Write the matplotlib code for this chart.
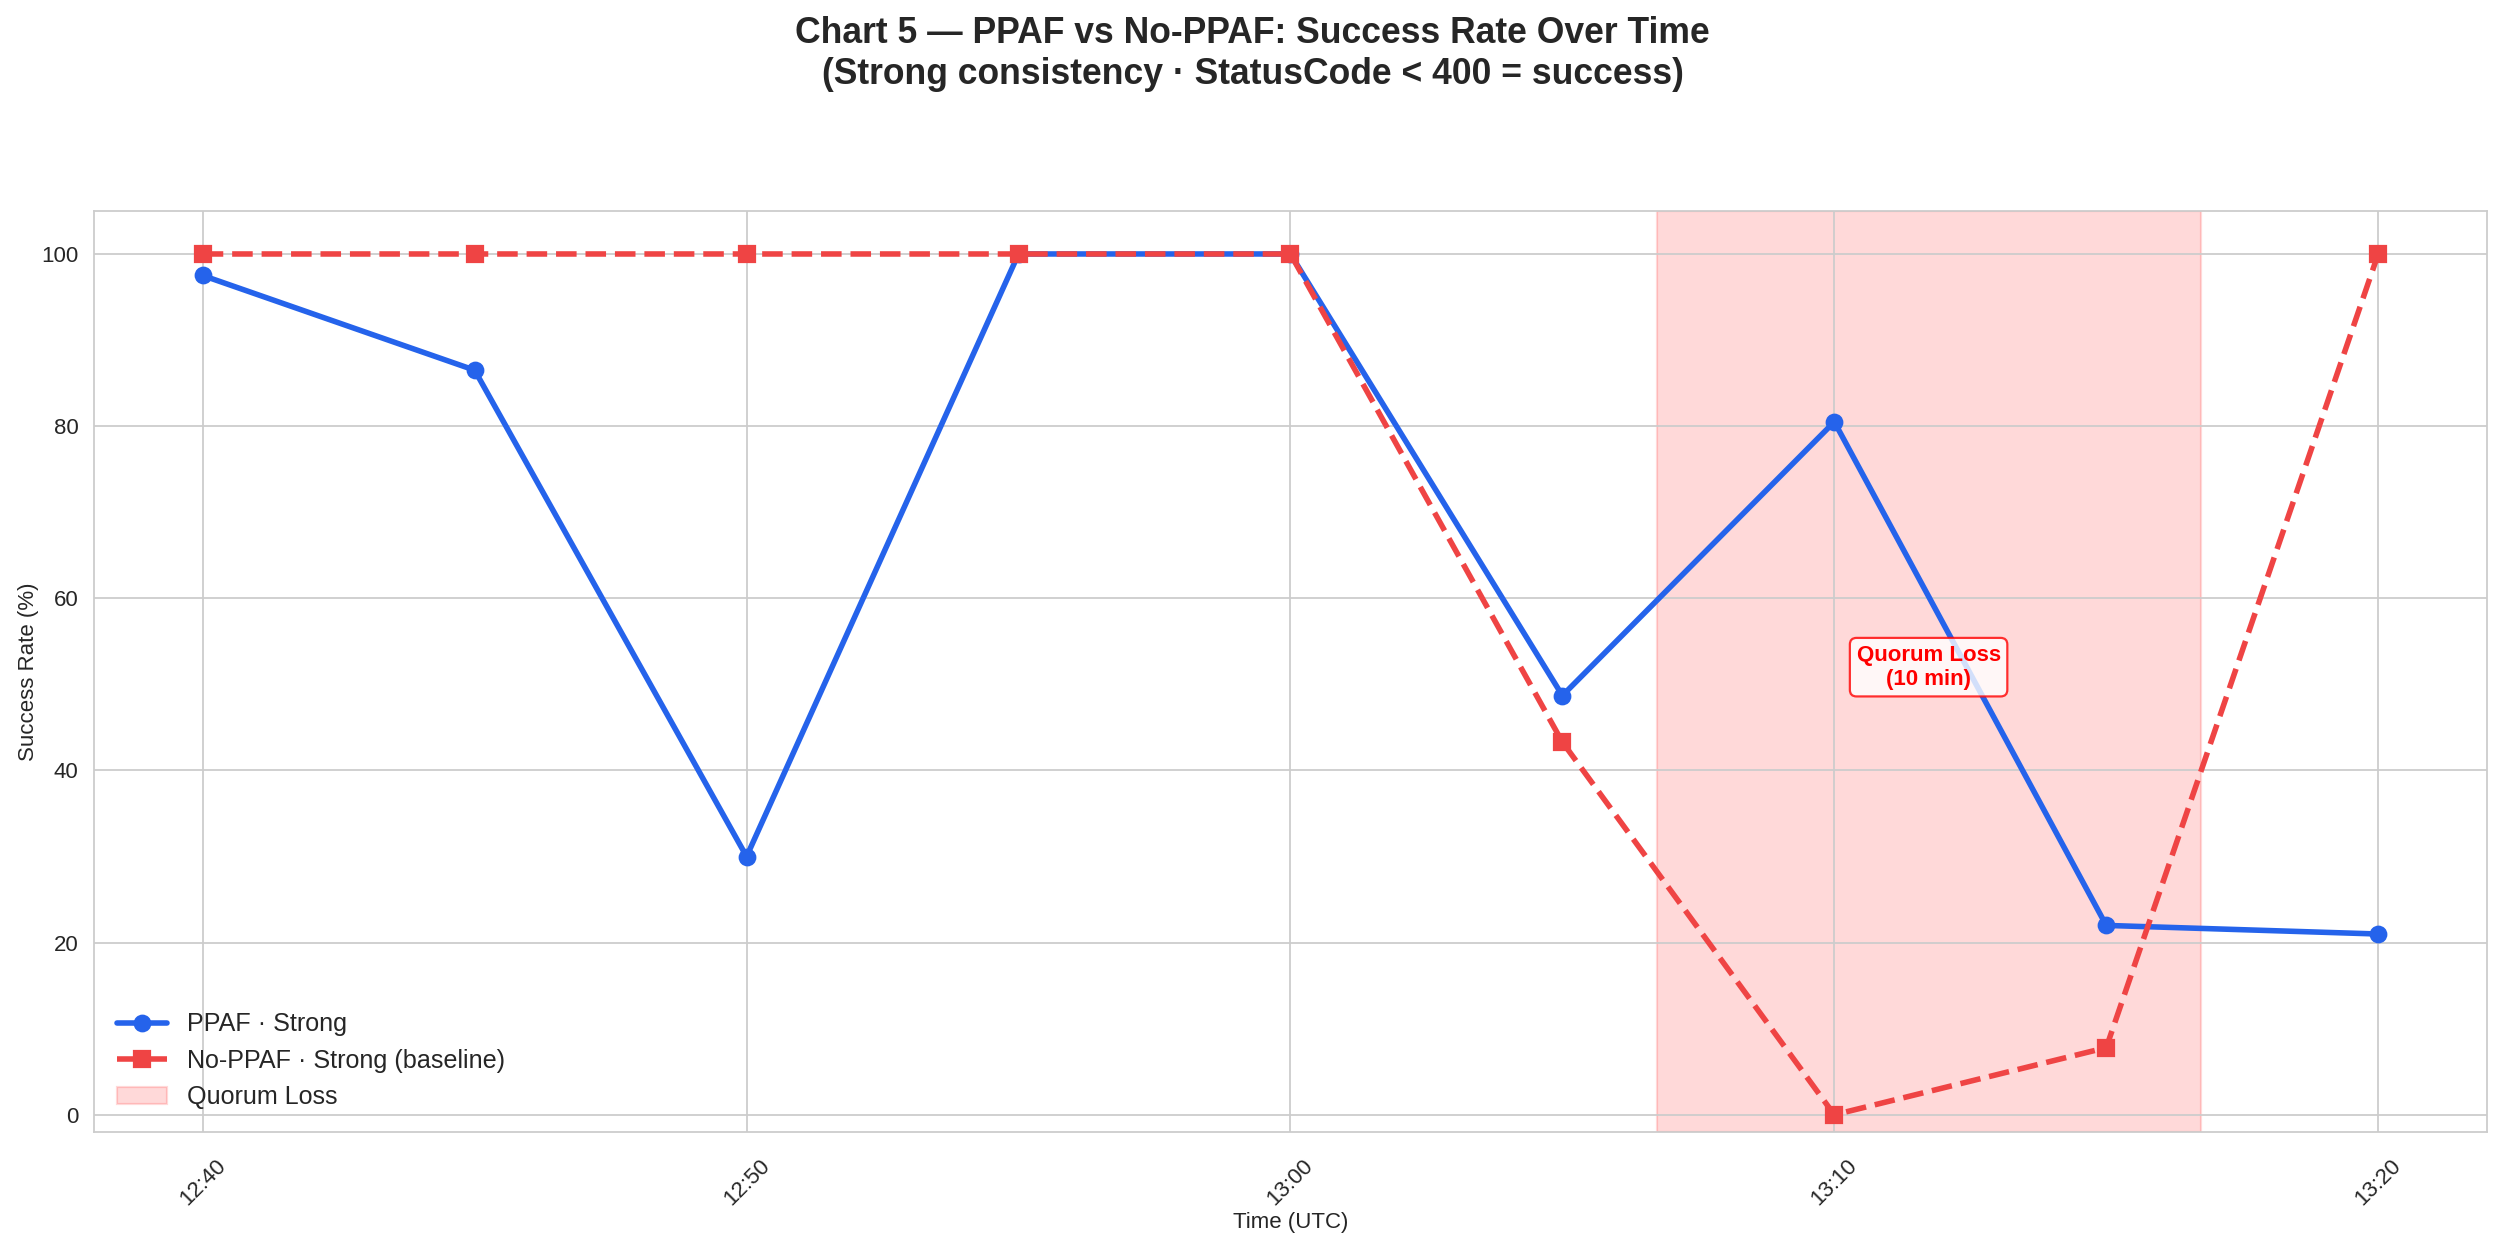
import matplotlib
matplotlib.use("Agg")
import matplotlib.pyplot as plt
import matplotlib.dates as mdates
import pandas as pd
import seaborn as sns

sns.set_style("whitegrid")
plt.rcParams['font.family'] = ['Liberation Sans', 'DejaVu Sans']

times = ["12:40", "12:45", "12:50", "12:55", "13:00", "13:05", "13:10", "13:15", "13:20"]
ppaf_strong = [97.5, 86.5, 30.0, 100.0, 100.0, 48.7, 80.5, 22.0, 21.0]
noppaf_strong = [100.0, 100.0, 100.0, 100.0, 100.0, 43.3, 0.0, 7.8, 100.0]
quorum_start = "13:06:44"
quorum_end = "13:16:44"
day = "2024-01-01 "

t = pd.to_datetime([day + s for s in times])
qs = pd.Timestamp(day + quorum_start)
qe = pd.Timestamp(day + quorum_end)

fig = plt.figure(figsize=(2505 / 160, 1243 / 160), dpi=160)
ax = fig.add_axes([0.0375, 0.0893, 0.9553, 0.741])

ax.axvspan(qs, qe, color='red', alpha=0.15, label='Quorum Loss', zorder=0)
ax.plot(t, ppaf_strong, color='#2563eb', lw=2.5, marker='o', ms=7, label='PPAF · Strong')
ax.plot(t, noppaf_strong, color='#ef4444', lw=2.5, ls='--', marker='s', ms=7,
        label='No-PPAF · Strong (baseline)')

mid = qs + (qe - qs) / 2
ax.text(mid, 52, 'Quorum Loss\n(10 min)', color='red', fontsize=10, fontweight='bold',
        ha='center', va='center',
        bbox=dict(boxstyle='round,pad=0.3', facecolor='white', edgecolor='red', alpha=0.8))

ax.set_ylim(-2, 105)
ax.set_xlim(t[0] - pd.Timedelta(minutes=2), t[-1] + pd.Timedelta(minutes=2))
ax.xaxis.set_major_locator(mdates.MinuteLocator(byminute=range(0, 60, 10)))
ax.xaxis.set_major_formatter(mdates.DateFormatter('%H:%M'))
plt.setp(ax.get_xticklabels(), rotation=45, ha='center')
ax.tick_params(labelsize=10)
ax.tick_params(axis='x', pad=7)
ax.set_xlabel('Time (UTC)', fontsize=10, labelpad=1)
ax.set_ylabel('Success Rate (%)', fontsize=10, labelpad=1)

handles, labels = ax.get_legend_handles_labels()
order = [1, 2, 0]
ax.legend([handles[i] for i in order], [labels[i] for i in order], loc='lower left',
          fontsize=11.3, frameon=False)

fig.suptitle('Chart 5 — PPAF vs No-PPAF: Success Rate Over Time\n(Strong consistency · StatusCode < 400 = success)',
             fontsize=16, fontweight='bold', y=0.987, va='top')

fig.savefig('out.png', dpi=160)
